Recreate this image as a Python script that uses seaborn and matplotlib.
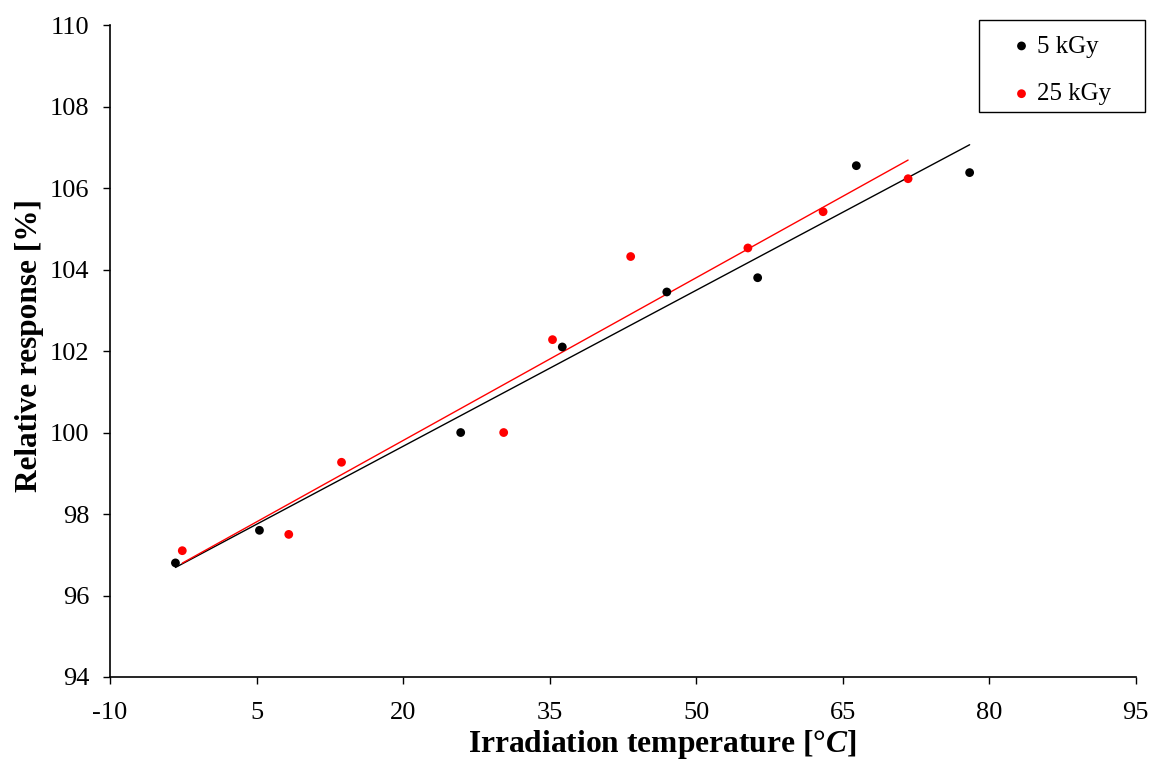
import matplotlib
matplotlib.use("Agg")
import matplotlib.pyplot as plt
import seaborn as sns
import pandas as pd
from matplotlib.patches import Rectangle
from matplotlib.collections import PathCollection

# data
temp_5 = [-3.3, 5.3, 25.9, 36.3, 47.0, 56.3, 66.4, 78.0]
resp_5 = [96.8, 97.6, 100.0, 102.1, 103.45, 103.8, 106.55, 106.38]
temp_25 = [-2.6, 8.3, 13.7, 30.3, 35.3, 43.3, 55.3, 63.0, 71.7]
resp_25 = [97.1, 97.5, 99.27, 100.0, 102.28, 104.32, 104.53, 105.42, 106.23]

df5 = pd.DataFrame({'T': temp_5, 'R': resp_5})
df25 = pd.DataFrame({'T': temp_25, 'R': resp_25})

sns.set_style("ticks")
plt.rcParams['font.family'] = ['Liberation Serif', 'DejaVu Serif']
plt.rcParams['axes.unicode_minus'] = False
plt.rcParams['mathtext.fontset'] = 'custom'
plt.rcParams['mathtext.bfit'] = 'Liberation Serif:italic:bold'
plt.rcParams['mathtext.it'] = 'Liberation Serif:italic'
plt.rcParams['mathtext.rm'] = 'Liberation Serif'
for k in ['text.color', 'axes.labelcolor', 'xtick.color', 'ytick.color', 'axes.edgecolor']:
    plt.rcParams[k] = 'black'

fig = plt.figure(figsize=(11.53, 7.61), dpi=100)
ax = fig.add_axes([0.0954, 0.1104, 0.8896, 0.8566])

sns.regplot(data=df5, x='T', y='R', ax=ax, ci=None, truncate=True,
            scatter_kws=dict(color='black', s=40, edgecolor='none', alpha=1, zorder=3),
            line_kws=dict(color='black', lw=1), label='5 kGy')
sns.regplot(data=df25, x='T', y='R', ax=ax, ci=None, truncate=True,
            scatter_kws=dict(color='#ff0000', s=40, edgecolor='none', alpha=1, zorder=3),
            line_kws=dict(color='#ff0000', lw=1), label='25 kGy')

ax.set_xlim(-10, 95)
ax.set_ylim(94, 110)
ax.set_xticks(range(-10, 96, 15))
ax.set_yticks(range(94, 111, 2))
ax.tick_params(labelsize=19, length=5, width=1, direction='out')
ax.tick_params(axis='x', pad=13)
ax.tick_params(axis='y', pad=10)
for s in ['left', 'bottom']:
    ax.spines[s].set_linewidth(1.2)
sns.despine(ax=ax)

ax.set_xlabel('Irradiation temperature [°$\\mathbfit{C}$]', fontsize=22.7, fontweight='bold')
ax.set_ylabel('Relative response [%]', fontsize=22.5, fontweight='bold')
ax.xaxis.set_label_coords(0.538, -0.078)
ax.yaxis.set_label_coords(-0.064, 0.508)

# legend: scatter handles only, with a plain box drawn around it
handles, labels = ax.get_legend_handles_labels()
pairs = [(h, l) for h, l in zip(handles, labels) if isinstance(h, PathCollection)]
leg = fig.legend([p[0] for p in pairs], [p[1] for p in pairs],
                 loc='upper left', bbox_to_anchor=(1009 / 1153, 1 - 35 / 761),
                 fontsize=18, frameon=False, borderpad=0, borderaxespad=0,
                 handlelength=1.0, handletextpad=0.12, labelspacing=1.01)
fig.patches.append(Rectangle((979 / 1153, 1 - 112 / 761), 166 / 1153, 92 / 761,
                             transform=fig.transFigure, fill=False,
                             edgecolor='black', linewidth=1))

fig.savefig('out.png', dpi=100)
